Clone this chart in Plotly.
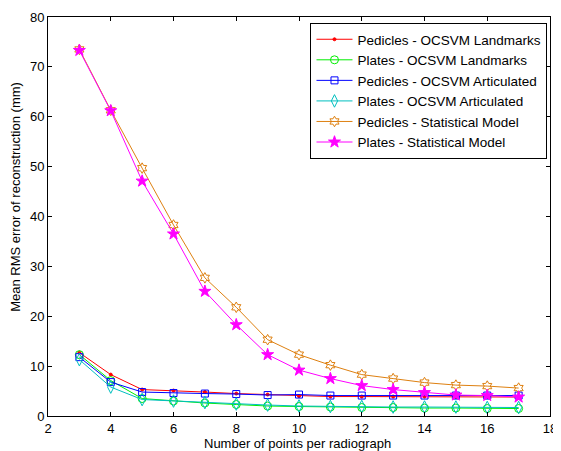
import plotly.graph_objects as go

x_points = list(range(3, 18))

ped_ocsvm_landmarks = [12.7, 8.3, 5.3, 5.1, 4.8, 4.5, 4.3, 4.0, 3.9, 3.9, 3.9, 3.9, 3.8, 3.8, 3.8]
plates_ocsvm_landmarks = [12.3, 7.1, 3.5, 3.0, 2.6, 2.3, 2.0, 1.9, 1.8, 1.7, 1.7, 1.6, 1.6, 1.5, 1.5]
ped_ocsvm_articulated = [11.8, 6.8, 4.8, 4.6, 4.5, 4.4, 4.2, 4.3, 4.1, 4.1, 4.1, 4.1, 4.1, 4.1, 4.1]
plates_ocsvm_articulated = [11.3, 5.8, 3.3, 3.0, 2.7, 2.4, 2.2, 2.0, 1.9, 1.9, 1.8, 1.8, 1.8, 1.7, 1.7]
ped_statistical = [73.5, 61.3, 49.7, 38.3, 27.7, 21.8, 15.3, 12.3, 10.2, 8.3, 7.5, 6.7, 6.2, 6.0, 5.6]
plates_statistical = [73.3, 61.2, 47.1, 36.5, 25.0, 18.3, 12.3, 9.2, 7.5, 6.1, 5.3, 4.7, 4.2, 4.1, 3.8]

x_title = "Number of points per radiograph"
y_title = "Mean RMS error of reconstruction (mm)"

series = [
    ("Pedicles - OCSVM Landmarks", ped_ocsvm_landmarks, "#FF0000", "circle", 3),
    ("Plates - OCSVM Landmarks", plates_ocsvm_landmarks, "#00EE00", "circle-open", 8),
    ("Pedicles - OCSVM Articulated", ped_ocsvm_articulated, "#0000FF", "square-open", 7),
    ("Plates - OCSVM Articulated", plates_ocsvm_articulated, "#00BFBF", "diamond-tall-open", 9),
    ("Pedicles - Statistical Model", ped_statistical, "#DE8010", "hexagram-open", 8),
    ("Plates - Statistical Model", plates_statistical, "#FF00FF", "star", 9),
]

FONT = "Liberation Sans, Arial, sans-serif"

fig = go.Figure()
for name, vals, col, sym, size in series:
    fig.add_trace(go.Scatter(
        x=x_points, y=vals, name=name, mode="lines+markers",
        line=dict(color=col, width=1),
        marker=dict(symbol=sym, size=size, color=col, line=dict(color=col, width=1)),
    ))

axis_common = dict(
    showline=True, linecolor="black", linewidth=1, mirror="ticks",
    ticks="inside", ticklen=4, tickcolor="black", showgrid=False, zeroline=False,
    automargin=False,
    tickfont=dict(family=FONT, size=13, color="black"),
)

# page body has an 8px margin, so the figure is drawn at (8, 8)
fig.update_layout(
    width=553, height=443,
    margin=dict(l=40, r=11, t=9, b=35),
    paper_bgcolor="white", plot_bgcolor="white",
    font=dict(family=FONT, size=13, color="black"),
    xaxis=dict(range=[2, 18], dtick=2, tick0=2, **axis_common),
    yaxis=dict(range=[0, 80], dtick=10, **axis_common),
    legend=dict(x=0.995, xanchor="right", y=0.985, yanchor="top",
                bgcolor="white", bordercolor="black", borderwidth=1,
                font=dict(family=FONT, size=13.5, color="black"),
                tracegroupgap=0, itemwidth=36),
    showlegend=True,
    annotations=[
        dict(text=x_title, xref="paper", yref="paper", x=0.497, y=-0.069,
             xanchor="center", yanchor="middle", showarrow=False,
             font=dict(family=FONT, size=13, color="black")),
        dict(text=y_title, xref="paper", yref="paper", x=-0.064, y=0.549,
             xanchor="center", yanchor="middle", showarrow=False, textangle=-90,
             font=dict(family=FONT, size=13, color="black")),
    ],
)

fig.write_html("out.html")
